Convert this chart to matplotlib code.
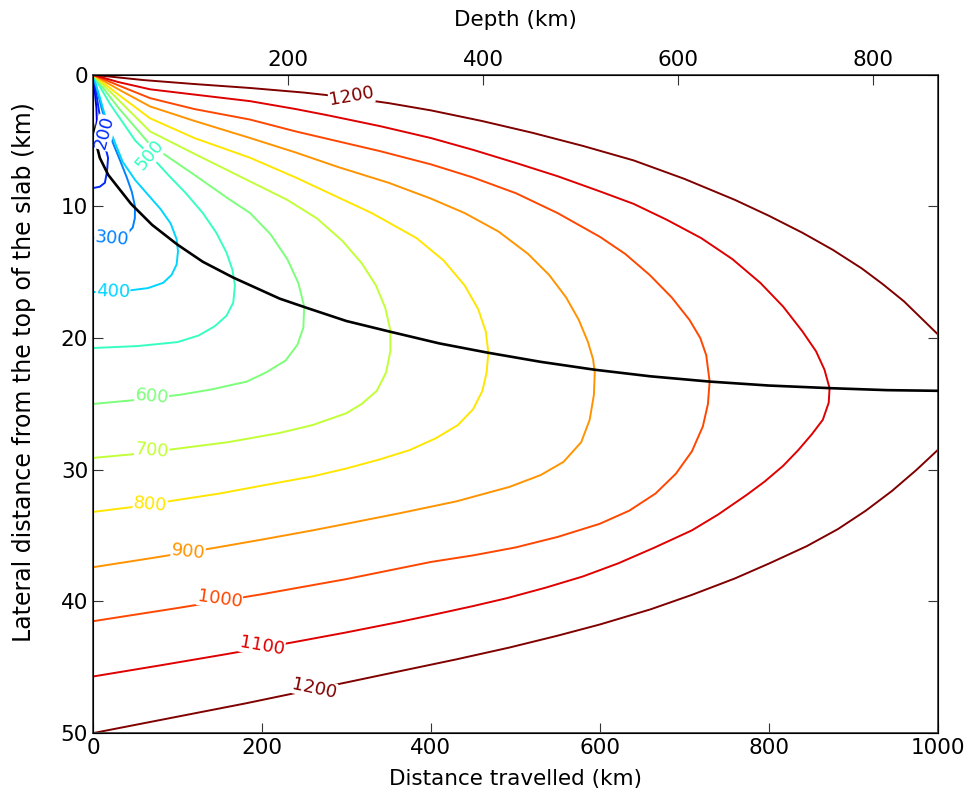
import matplotlib
matplotlib.use("Agg")
import matplotlib.pyplot as plt
import numpy as np

plt.rcParams['font.family'] = ['DejaVu Sans']

# contour levels (temperature)
levels = [100, 200, 300, 400, 500, 600, 700, 800, 900, 1000, 1100, 1200]

# contour paths: (distance travelled km, lateral distance km)
c100 = [(0, 0), (2, 1.2), (4, 2.5), (4.5, 3.5), (3, 4.1), (0, 4.2)]
c200 = [(0, 0), (4, 1.5), (9, 3.5), (13.5, 5.2), (17.8, 6.3), (16.5, 7.4), (14, 8.2), (8, 8.5), (0, 8.6)]
c300 = [(0, 0), (5, 1.2), (10, 2.5), (17, 4.0), (23.7, 5.2), (32, 6.5), (40, 7.8), (46, 8.9),
        (49.7, 10.0), (49.5, 10.9), (47, 11.6), (40, 12.1), (20, 12.35), (0, 12.4)]
c400 = [(0, 0), (8, 1.7), (15, 3.3), (25, 5.0), (35, 6.6), (50, 8.0), (65, 9.1), (80, 10.2),
        (92, 11.3), (99, 12.5), (100.6, 13.4), (99, 14.4), (93, 15.2), (83, 15.8), (65, 16.2),
        (40, 16.4), (0, 16.5)]
c500 = [(0, 0), (20, 2.2), (50, 5.0), (67.5, 6.1), (89, 7.6), (110, 9.0), (130, 10.5), (146, 12.0),
        (158, 13.5), (165, 14.8), (168, 16.0), (166, 17.3), (158, 18.3), (144, 19.1), (125, 19.8),
        (100, 20.3), (53, 20.6), (0, 20.75)]
c600 = [(0, 0), (30, 2.5), (67.5, 5.3), (120, 7.6), (160, 9.4), (186, 10.5), (210, 12.1), (230, 14.0),
        (243, 15.8), (250, 17.6), (249, 19.2), (242, 20.5), (228, 21.7), (205, 22.6), (182, 23.3),
        (140, 23.9), (103, 24.3), (50, 24.7), (0, 25.0)]
c700 = [(0, 0), (30, 1.9), (67.5, 4.3), (120, 6.0), (186, 8.1), (230, 9.5), (265, 10.9), (295, 12.6),
        (318, 14.3), (335, 16.0), (346, 17.7), (352, 19.4), (352, 21.0), (347, 22.6), (336, 24.0),
        (318, 25.0), (300, 25.7), (260, 26.6), (221, 27.2), (160, 27.9), (99, 28.4), (50, 28.8), (0, 29.1)]
c800 = [(0, 0), (30, 1.5), (67.5, 3.3), (120, 4.8), (186, 6.3), (240, 7.8), (280, 9.0), (330, 10.5),
        (383, 12.4), (415, 14.1), (440, 16.0), (456, 17.8), (465, 19.5), (468, 21.1), (466, 22.6),
        (461, 24.0), (450, 25.4), (432, 26.6), (406, 27.6), (375, 28.5), (340, 29.2), (300, 29.9),
        (260, 30.5), (200, 31.2), (150, 31.8), (99, 32.3), (50, 32.8), (0, 33.2)]
c900 = [(0, 0), (30, 1.1), (67.5, 2.4), (120, 3.5), (186, 4.8), (240, 5.9), (290, 7.0), (350, 8.2),
        (400, 9.4), (440, 10.5), (480, 11.9), (515, 13.6), (540, 15.2), (560, 16.9), (575, 18.6),
        (586, 20.3), (592, 21.6), (594, 22.6), (593, 24.3), (588, 26.2), (578, 27.9), (557, 29.4),
        (530, 30.4), (493, 31.3), (430, 32.4), (363, 33.3), (300, 34.1), (260, 34.6), (200, 35.3),
        (142, 35.95), (70, 36.7), (0, 37.4)]
c1000 = [(0, 0), (30, 0.8), (67.5, 1.77), (120, 2.6), (186, 3.4), (240, 4.3), (280, 4.9), (340, 5.8),
         (400, 6.8), (450, 7.8), (501, 9.0), (550, 10.5), (600, 12.3), (630, 13.6), (659, 15.2),
         (685, 16.9), (706, 18.6), (719, 20.0), (726, 21.3), (730, 23.3), (728, 25.0), (722, 26.7),
         (709, 28.6), (690, 30.3), (666, 31.8), (635, 33.1), (600, 34.1), (550, 35.1), (500, 35.9),
         (450, 36.5), (400, 37.0), (300, 38.3), (200, 39.45), (100, 40.5), (50, 41.0), (0, 41.5)]
c1100 = [(0, 0), (30, 0.55), (67.5, 1.1), (120, 1.5), (186, 2.0), (240, 2.6), (280, 3.1), (340, 3.9),
         (400, 4.8), (450, 5.7), (501, 6.7), (550, 7.7), (600, 8.85), (640, 9.8), (679, 11.0),
         (720, 12.4), (757, 14.0), (790, 15.8), (817, 17.6), (840, 19.5), (856, 21.0), (866, 22.4),
         (872, 23.8), (871, 24.9), (864, 26.2), (851, 27.3), (835, 28.5), (817, 29.7), (795, 30.9),
         (774, 31.9), (740, 33.4), (709, 34.6), (665, 35.9), (622, 37.1), (580, 38.1), (536, 38.95),
         (490, 39.75), (450, 40.35), (400, 41.05), (363, 41.55), (300, 42.35), (237, 43.1),
         (158, 44.0), (80, 44.85), (0, 45.7)]
c1200_top = [(0, 0), (30, 0.2), (60, 0.4), (120, 0.7), (186, 1.0), (250, 1.35), (300, 1.7),
             (350, 2.15), (400, 2.7), (460, 3.5), (520, 4.4), (580, 5.4), (640, 6.5), (700, 7.9),
             (760, 9.5), (800, 10.7), (840, 12.0), (876, 13.3), (910, 14.7), (935, 15.9),
             (960, 17.2), (980, 18.45), (1000, 19.7)]
c1200_bot = [(0, 50), (60, 49.25), (120, 48.5), (180, 47.75), (240, 46.95), (300, 46.15), (363, 45.3),
             (430, 44.4), (493, 43.5), (550, 42.6), (600, 41.75), (660, 40.6), (709, 39.5), (760, 38.25),
             (801, 37.1), (845, 35.8), (882, 34.5), (915, 33.1), (946, 31.6), (975, 30.0), (1000, 28.5)]

# locus of minimum temperature
min_line = [(0, 3.8), (3, 5.0), (8, 6.3), (18, 7.6), (45, 9.8), (70, 11.4), (100, 12.9), (130, 14.2),
            (166, 15.4), (221, 17.0), (253, 17.7), (300, 18.7), (351, 19.5), (410, 20.4),
            (467, 21.1), (530, 21.8), (594, 22.4), (660, 22.9), (730, 23.3), (800, 23.6),
            (873, 23.8), (940, 23.95), (1000, 24.0)]

# inline labels: level, x, y, rotation
label_pos = [(200, 13, 4.4, 75), (300, 22, 12.4, -5), (400, 23.7, 16.45, -2), (500, 67.5, 6.1, 50),
             (600, 69.6, 24.4, -5), (700, 69.6, 28.5, -5), (800, 67.6, 32.6, -5), (900, 112.6, 36.2, -6),
             (1000, 150, 39.8, -8), (1100, 200, 43.4, -10), (1200, 261.5, 46.6, -12), (1200, 306, 1.65, 10)]

depth_ticks = [200, 400, 600, 800]

contours = [(100, c100), (200, c200), (300, c300), (400, c400), (500, c500), (600, c600),
            (700, c700), (800, c800), (900, c900), (1000, c1000), (1100, c1100),
            (1200, c1200_top), (1200, c1200_bot)]

cmap = plt.get_cmap('jet')
norm = plt.Normalize(0, max(levels))

fig = plt.figure(figsize=(9.72, 7.96), dpi=100)
ax = fig.add_axes([0.0957, 0.079, 0.869, 0.827])

for lev, pts in contours:
    xs, ys = zip(*pts)
    ax.plot(xs, ys, color=cmap(norm(lev)), lw=1.4, zorder=2, solid_joinstyle='round')

mx, my = zip(*min_line)
ax.plot(mx, my, color='black', lw=1.9, zorder=3, solid_joinstyle='round')

for lev, x, y, rot in label_pos:
    ax.text(x, y, str(lev), color=cmap(norm(lev)), fontsize=13, rotation=rot,
            ha='center', va='center', rotation_mode='anchor', zorder=4, clip_on=True,
            bbox=dict(fc='white', ec='none', pad=0.3))

ax.set_xlim(0, 1000)
ax.set_ylim(50, 0)
ax.set_xticks([0, 200, 400, 600, 800, 1000])
ax.set_yticks([0, 10, 20, 30, 40, 50])
ax.tick_params(direction='in', length=7, labelsize=15.5, top=False, right=True, color='#333333')
ax.set_xlabel("Distance travelled (km)", fontsize=15.5, labelpad=8)
ax.set_ylabel("Lateral distance from the top of the slab (km)", fontsize=17)
ax.yaxis.set_label_coords(-0.068, 0.549)
for s in ax.spines.values():
    s.set_color('#444444')
    s.set_linewidth(1.3)

ax2 = ax.twiny()
ax2.set_xlim(0, 1000 * np.sin(np.radians(60)))
ax2.set_xticks(depth_ticks)
ax2.tick_params(direction='in', length=7, labelsize=15.5, color='#333333')
ax2.set_xlabel("Depth (km)", fontsize=15.5, labelpad=17)

fig.savefig("out.png", dpi=100)
